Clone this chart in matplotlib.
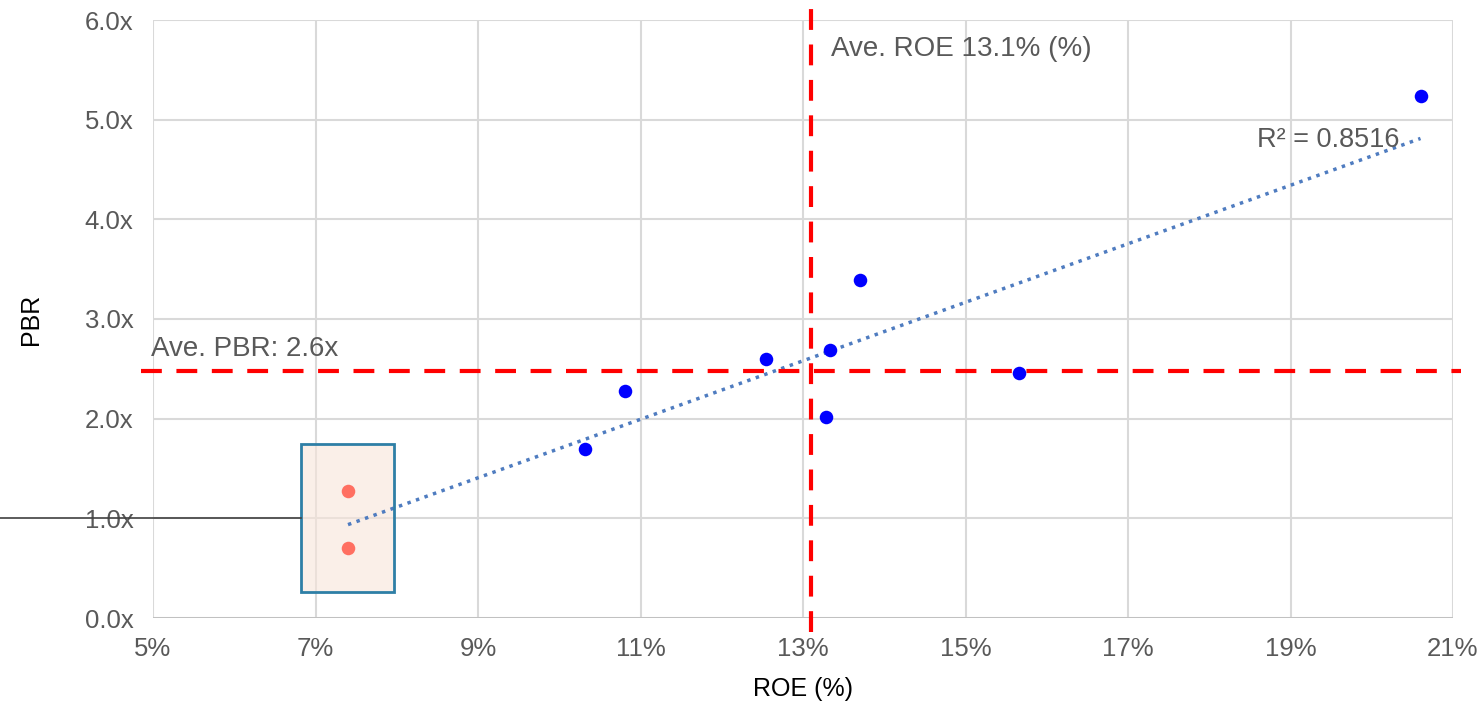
import numpy as np
import matplotlib
matplotlib.use("Agg")
import matplotlib.pyplot as plt
from matplotlib.patches import Rectangle
from matplotlib.lines import Line2D

plt.rcParams['font.family'] = ['Liberation Sans', 'DejaVu Sans']

# Data
roe_main = [20.6, 13.70, 13.33, 12.54, 15.66, 10.81, 13.28, 10.32]
pbr_main = [5.24, 3.39, 2.69, 2.60, 2.46, 2.28, 2.02, 1.70]
roe_highlight = [7.40, 7.40]
pbr_highlight = [1.27, 0.70]
avg_roe = 13.1
avg_pbr_line = 2.48
avg_pbr_label = "Ave. PBR: 2.6x"
avg_roe_label = "Ave. ROE 13.1% (%)"
r2_label = "R² = 0.8516"
x_ticks = [5, 7, 9, 11, 13, 15, 17, 19, 21]
y_ticks = [0, 1, 2, 3, 4, 5, 6]
box_x = (6.82, 7.97)
box_y = (0.26, 1.75)

fig = plt.figure(figsize=(14.83, 7.06), dpi=100)
ax = fig.add_axes([153/1483, 88/706, 1300/1483, 598/706])
ax.set_xlim(5, 21)
ax.set_ylim(0, 6)

for s in ax.spines.values():
    s.set_visible(False)
ax.set_xticks(x_ticks)
ax.set_yticks(y_ticks)
ax.set_xticklabels([f"{t}%" for t in x_ticks])
ax.set_yticklabels([f"{t:.1f}x" for t in y_ticks])
ax.tick_params(length=0, labelsize=18.5, labelcolor='#595959')
ax.tick_params(axis='x', pad=14)
ax.tick_params(axis='y', pad=14)
ax.grid(True, color='#D9D9D9', linewidth=1.5)
ax.set_axisbelow(True)
ax.axhline(0, color='#BFBFBF', linewidth=2, zorder=1)

# Highlight box
ax.add_patch(Rectangle((box_x[0], box_y[0]), box_x[1]-box_x[0], box_y[1]-box_y[0],
                       facecolor='#F8E5DA', alpha=0.6, edgecolor='none', zorder=2))
ax.add_patch(Rectangle((box_x[0], box_y[0]), box_x[1]-box_x[0], box_y[1]-box_y[0],
                       facecolor='none', edgecolor='#2E7FA6', linewidth=2, zorder=5))
# connector line to the left edge of the figure
fig.add_artist(Line2D([0, 301/1483], [(706-518)/706]*2, color='#404040', linewidth=1.2))

# Trend line
all_x = np.array(roe_main + roe_highlight)
all_y = np.array(pbr_main + pbr_highlight)
k, b = np.polyfit(all_x, all_y, 1)
tx = np.array([min(all_x), max(all_x)])
ax.plot(tx, k*tx + b, linestyle=(0, (1, 1.6)), color='#4F7CC0', linewidth=2.5, zorder=3)

# Average lines
ax.plot([4.85, 21.1], [avg_pbr_line]*2, color='#FF0000', linewidth=3,
        dashes=(5, 3.5), clip_on=False, zorder=4)
ax.plot([avg_roe]*2, [-0.14, 6.2], color='#FF0000', linewidth=3,
        dashes=(5, 3.5), clip_on=False, zorder=4)

# Points
ax.scatter(roe_main, pbr_main, s=95, color='#0000FF', zorder=6, linewidths=0)
ax.scatter(roe_highlight, pbr_highlight, s=95, color='#FF6F61', zorder=6, linewidths=0)

# Texts
ax.text(13.35, 5.71, avg_roe_label, fontsize=20, color='#595959', va='center', ha='left')
ax.text(4.98, 2.70, avg_pbr_label, fontsize=20, color='#595959', va='center', ha='left')
ax.text(18.59, 4.80, r2_label, fontsize=19.5, color='#595959', va='center', ha='left')

ax.set_xlabel("ROE (%)", fontsize=18, color='#000000', labelpad=11)
ax.set_ylabel("PBR", fontsize=18, color='#000000', labelpad=30)

fig.savefig("out.png", dpi=100)
